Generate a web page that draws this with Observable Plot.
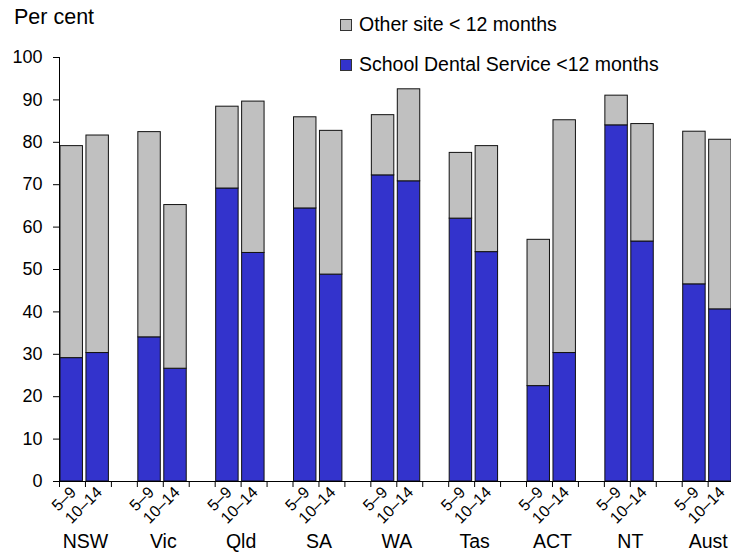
<!DOCTYPE html>
<html>
<head>
<meta charset="utf-8">
<script src="https://cdn.jsdelivr.net/npm/d3@7"></script>
<script src="https://cdn.jsdelivr.net/npm/@observablehq/plot@0.6"></script>
<style>
  html, body { margin: 0; padding: 0; background: #fff; }
  #wrap { position: relative; width: 731px; height: 553px; font-family: "Liberation Sans", Arial, sans-serif; color: #000; }
  .ov { position: absolute; white-space: nowrap; }
  .sw { position: absolute; width: 10px; height: 10px; border: 1px solid #333; }
</style>
</head>
<body>
<div id="wrap">
  <div id="chart"></div>
  <div class="ov" style="left:14px; top:6.5px; font-size:21.5px; line-height:21.5px;">Per cent</div>
  <div class="sw" style="left:340px; top:19px; background:#C0C0C0;"></div>
  <div class="ov" style="left:359px; top:15px; font-size:19.5px; line-height:19.5px;">Other site &lt; 12 months</div>
  <div class="sw" style="left:340px; top:59px; background:#3333CC;"></div>
  <div class="ov" style="left:359px; top:55px; font-size:19.5px; line-height:19.5px;">School Dental Service &lt;12 months</div>
</div>
<script>
const states = ["NSW", "Vic", "Qld", "SA", "WA", "Tas", "ACT", "NT", "Aust"];
const ageGroups = ["5–9", "10–14"];
// School Dental Service < 12 months (per cent), per state: [5–9, 10–14]
const sdsValues = [
  [29.1, 30.3], [34.0, 26.6], [69.1, 53.9], [64.4, 48.8], [72.2, 70.8],
  [62.0, 54.1], [22.5, 30.3], [84.0, 56.6], [46.5, 40.6]
];
// Other site < 12 months (per cent), per state: [5–9, 10–14]
const otherValues = [
  [50.0, 51.3], [48.4, 38.6], [19.3, 35.7], [21.5, 33.9], [14.2, 21.7],
  [15.5, 25.0], [34.5, 54.9], [7.0, 27.7], [36.0, 40.0]
];
const yTicks = [0, 10, 20, 30, 40, 50, 60, 70, 80, 90, 100];
const seriesNames = ["School Dental Service <12 months", "Other site < 12 months"];
const seriesColors = ["#3333CC", "#C0C0C0"];

// Build table: each state has slots 5–9, 10–14, then a gap slot
const rows = [];
const ageLabels = [];
states.forEach((s, g) => {
  ageGroups.forEach((a, k) => {
    const slot = 3 * g + k;
    const sds = sdsValues[g][k], oth = otherValues[g][k];
    rows.push({state: s, age: a, slot, series: seriesNames[0], y1: 0, y2: sds});
    rows.push({state: s, age: a, slot, series: seriesNames[1], y1: sds, y2: sds + oth});
    ageLabels.push({label: a, slot});
  });
});
const groupLabels = states.map((s, g) => ({label: s, pos: 3 * g + 1}));
const nSlots = states.length * 3 - 1;

const font = `"Liberation Sans", Arial, sans-serif`;
const chart = Plot.plot({
  width: 731,
  height: 553,
  marginLeft: 59,
  marginRight: 0,
  marginTop: 57,
  marginBottom: 72,
  style: {fontFamily: font, background: "#fff", color: "#000", overflow: "visible"},
  x: {domain: [0, 25.9], axis: null},
  y: {domain: [0, 100], axis: null},
  color: {domain: seriesNames, range: seriesColors},
  marks: [
    Plot.rectY(rows, {
      x1: d => d.slot, x2: d => d.slot + 1, y1: "y1", y2: "y2",
      fill: "series", stroke: "#111", strokeWidth: 1,
      insetLeft: 1, insetRight: 2.5
    }),
    Plot.axisY({ticks: yTicks, tickSize: 6, tickPadding: 11, fontSize: 18, label: null, stroke: "#000"}),
    Plot.ruleX([0], {y1: 0, y2: 100, stroke: "#000"}),
    Plot.ruleY([0], {stroke: "#000"}),
    Plot.axisX({ticks: d3.range(0, nSlots), tickSize: 6, tickFormat: () => "", label: null, stroke: "#000"}),
    Plot.text(ageLabels, {
      x: d => d.slot + 0.5, y: 0, text: "label", rotate: -45, textAnchor: "end",
      dx: 1, dy: 8, fontSize: 16, fill: "#000"
    }),
    Plot.text(groupLabels, {
      x: "pos", y: 0, text: "label", dy: 60, fontSize: 19.5, fill: "#000"
    })
  ]
});
document.getElementById("chart").appendChild(chart);
</script>
</body>
</html>
